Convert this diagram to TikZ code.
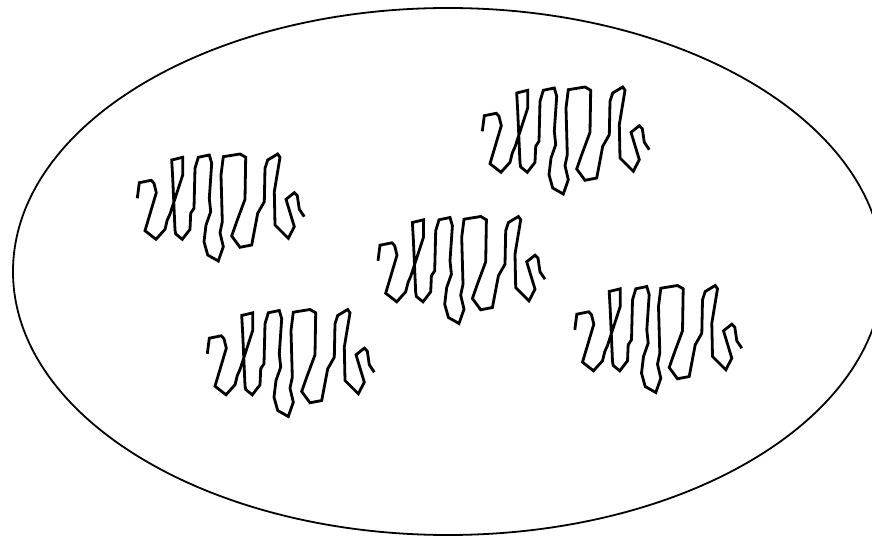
\documentclass[tikz,border=0pt]{standalone}
\begin{document}
\begin{tikzpicture}[x=1pt,y=-1pt,
  chain/.style={line width=2.8pt,line join=miter,miter limit=4},
  outer/.style={line width=1.8pt}]
\useasboundingbox (0,0) rectangle (872,537);
\path[outer,draw] (448,271.5) ellipse [x radius=435, y radius=263.5];
\def\squiggle{(137.3,198.3) -- (139.3,182.7) -- (151.3,180.3) -- (154,183.3) -- (156.3,192.7) -- (145,230.7) -- (156,239.3) -- (165,229.3) -- (167.3,220) -- (170,214) -- (182.7,175) -- (182.7,157.3) -- (171.7,160) -- (172.7,178) -- (175,230) -- (175.7,234) -- (182.3,239.3) -- (190,229.3) -- (190.7,213.3) -- (194,208.3) -- (195,168.3) -- (198.3,157.3) -- (209.3,155) -- (211.7,163.3) -- (209.3,198.3) -- (210.7,211.7) -- (206,225) -- (204,241.7) -- (207.7,255) -- (218.3,261) -- (223.3,246.7) -- (220,232.7) -- (222.3,221.7) -- (221,175) -- (223.3,156.7) -- (240,154) -- (245.7,157.3) -- (245,199.3) -- (236.7,221.7) -- (231.7,236) -- (240,247.3) -- (251.7,245) -- (257.7,213.3) -- (264.3,201.7) -- (265,168.3) -- (267.7,160) -- (277.7,154) -- (280,157.3) -- (274.3,191.7) -- (275,225) -- (288.3,238.3) -- (294.3,226.7) -- (286,199.3) -- (294.3,192.7) -- (297.3,195.7) -- (299.3,209.3) -- (304.3,216.7)}
\draw[chain] \squiggle;
\draw[chain,shift={(345,-67)}] \squiggle;
\draw[chain,shift={(240.7,62.5)}] \squiggle;
\draw[chain,shift={(70,155.5)}] \squiggle;
\draw[chain,shift={(437.5,131.5)}] \squiggle;
\end{tikzpicture}
\end{document}
